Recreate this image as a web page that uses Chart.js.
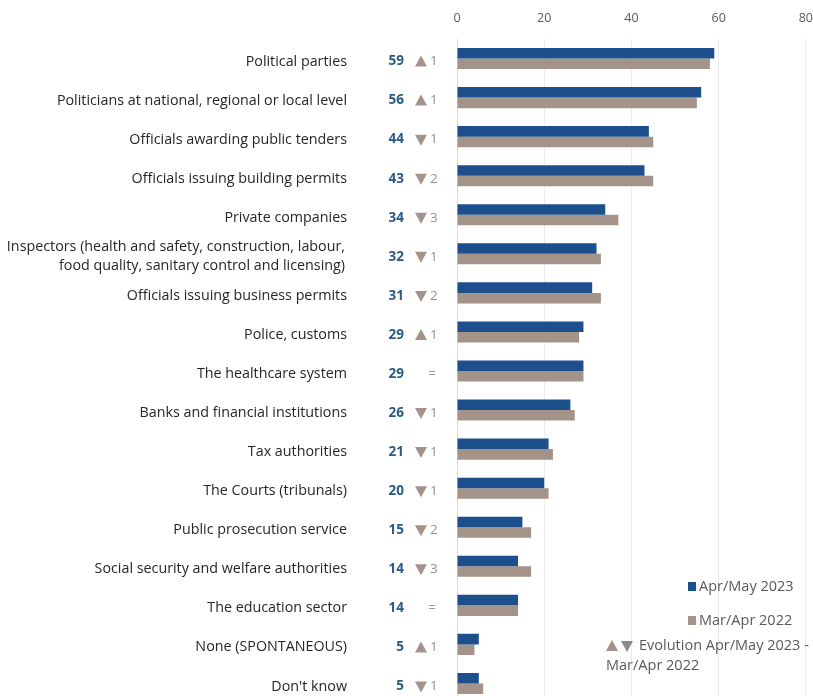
<!DOCTYPE html>
<html>
<head>
<meta charset="utf-8">
<script src="https://cdn.jsdelivr.net/npm/chart.js@4.4.1/dist/chart.umd.min.js"></script>
<style>
  html, body { margin: 0; padding: 0; background: #fff; overflow: hidden; }
  #wrap { position: relative; width: 826px; height: 703px; }
</style>
</head>
<body>
<div id="wrap"><canvas id="myChart"></canvas></div>
<script>
const categories = [
    'Political parties',
    'Politicians at national, regional or local level',
    'Officials awarding public tenders',
    'Officials issuing building permits',
    'Private companies',
    ['Inspectors (health and safety, construction, labour,', 'food quality, sanitary control and licensing)'],
    'Officials issuing business permits',
    'Police, customs',
    'The healthcare system',
    'Banks and financial institutions',
    'Tax authorities',
    'The Courts (tribunals)',
    'Public prosecution service',
    'Social security and welfare authorities',
    'The education sector',
    'None (SPONTANEOUS)',
    "Don't know"
];
const values2023 = [59, 56, 44, 43, 34, 32, 31, 29, 29, 26, 21, 20, 15, 14, 14, 5, 5];
const values2022 = [58, 55, 45, 45, 37, 33, 33, 28, 29, 27, 22, 21, 17, 17, 14, 4, 6];
// evolution: sign + size, 0 means "="
const evolution = [1, 1, -1, -2, -3, -1, -2, 1, 0, -1, -1, -1, -2, -3, 0, 1, -1];
const xTicks = [0, 20, 40, 60, 80];

const BLUE = '#1c4f8b';
const TAUPE = '#a39389';
const FONT = '"Open Sans", sans-serif';

function triangle(ctx, cx, cy, up, color)
{
    ctx.fillStyle = color;
    ctx.beginPath();
    if (up)
    {
        ctx.moveTo(cx - 6, cy + 5);
        ctx.lineTo(cx + 6, cy + 5);
        ctx.lineTo(cx, cy - 6);
    }
    else
    {
        ctx.moveTo(cx - 6, cy - 5);
        ctx.lineTo(cx + 6, cy - 5);
        ctx.lineTo(cx, cy + 6);
    }
    ctx.closePath();
    ctx.fill();
}

const sidePlugin = {
    id: 'sideLabels',
    afterDraw(chart)
    {
        const ctx = chart.ctx;
        const y = chart.scales.y;
        ctx.save();
        ctx.textBaseline = 'middle';
        categories.forEach((cat, i) =>
        {
            const cy = y.getPixelForValue(i) + 3;
            // category label
            ctx.font = '14.3px ' + FONT;
            ctx.fillStyle = '#262626';
            ctx.textAlign = 'right';
            if (Array.isArray(cat))
            {
                ctx.fillText(cat[0], 345, cy - 10);
                ctx.fillText(cat[1], 345, cy + 9);
            }
            else
            {
                ctx.fillText(cat, 347, cy);
            }
            // value
            ctx.font = 'bold 13.5px ' + FONT;
            ctx.fillStyle = '#2b5a86';
            ctx.fillText(String(values2023[i]), 404, cy);
            // evolution
            const ev = evolution[i];
            ctx.font = '13.5px ' + FONT;
            if (ev === 0)
            {
                ctx.fillStyle = '#9a9a9a';
                ctx.textAlign = 'center';
                ctx.fillText('=', 432, cy);
            }
            else
            {
                triangle(ctx, 421, cy, ev > 0, TAUPE);
                ctx.fillStyle = '#9a8f89';
                ctx.textAlign = 'left';
                ctx.fillText(String(Math.abs(ev)), 430, cy);
            }
        });

        // legend
        ctx.font = '14.5px ' + FONT;
        ctx.textAlign = 'left';
        ctx.fillStyle = BLUE;
        ctx.fillRect(688, 582, 8, 9);
        ctx.fillStyle = '#595959';
        ctx.fillText('Apr/May 2023', 699, 587);
        ctx.fillStyle = TAUPE;
        ctx.fillRect(688, 616, 8, 9);
        ctx.fillStyle = '#595959';
        ctx.fillText('Mar/Apr 2022', 699, 621);
        triangle(ctx, 612, 646, true, TAUPE);
        triangle(ctx, 627, 646, false, '#8a8a8a');
        ctx.fillStyle = '#595959';
        ctx.fillText('Evolution Apr/May 2023 -', 639, 646);
        ctx.fillText('Mar/Apr 2022', 606, 666);
        ctx.restore();
    }
};

new Chart(document.getElementById('myChart').getContext('2d'), {
    type: 'bar',
    data: {
        labels: categories,
        datasets: [
            {
                label: 'Apr/May 2023',
                data: values2023,
                backgroundColor: BLUE,
                categoryPercentage: 0.54,
                barPercentage: 1.0
            },
            {
                label: 'Mar/Apr 2022',
                data: values2022,
                backgroundColor: TAUPE,
                categoryPercentage: 0.54,
                barPercentage: 1.0
            }
        ]
    },
    options: {
        indexAxis: 'y',
        responsive: true,
        maintainAspectRatio: false,
        animation: false,
        layout: {
            padding: { left: 457, right: 0, top: 0, bottom: 0 }
        },
        plugins: {
            legend: { display: false },
            tooltip: { enabled: false }
        },
        scales: {
            x: {
                position: 'top',
                min: 0,
                max: 80,
                afterBuildTicks: (scale) =>
                {
                    scale.ticks = xTicks.map(v => ({ value: v }));
                },
                afterFit: (scale) =>
                {
                    scale.height = 39;
                },
                grid: {
                    color: (c) => c.tick && c.tick.value === 0 ? '#d9d9d9' : '#ececec',
                    drawTicks: false
                },
                border: { display: false },
                ticks: {
                    color: '#595959',
                    padding: 13,
                    font: { family: FONT, size: 12.5 }
                }
            },
            y: {
                display: false,
                grid: { display: false }
            }
        }
    },
    plugins: [sidePlugin]
});
</script>
</body>
</html>
